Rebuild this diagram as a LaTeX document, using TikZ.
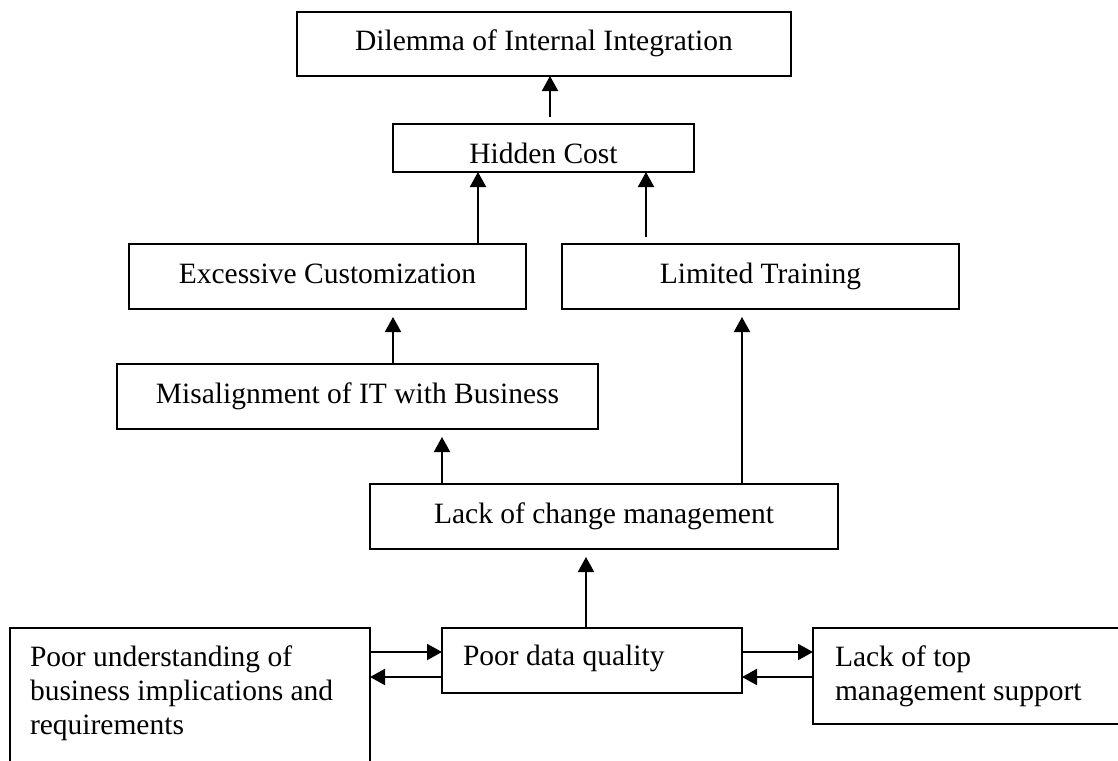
\documentclass[tikz,border=0pt]{standalone}
\usepackage{fontspec}
\setmainfont{Liberation Serif}
\usetikzlibrary{arrows.meta,calc}
\begin{document}
\begin{tikzpicture}[x=1pt,y=-1pt,
  box/.style={draw, line width=2pt, rectangle, inner sep=0pt, outer sep=0pt,
    font=\fontsize{29.5}{34}\selectfont, align=center},
  cbox/.style={box, text height=21pt, text depth=7pt},
  lbox/.style={box, align=flush left, inner xsep=21pt},
  arr/.style={line width=2pt, -{Triangle[width=16pt,length=15pt]}}]
\useasboundingbox (0,0) rectangle (1118,760);
\clip (0,0) rectangle (1118,760);
\fill[white] (0,0) rectangle (1118,760);

% boxes
\node[cbox, minimum width=494pt, minimum height=64pt] (dil) at (544,44) {Dilemma of Internal Integration};
\node[cbox, text height=37pt, minimum width=301pt, minimum height=48pt] (hid) at (543.5,148) {Hidden Cost};
\node[cbox, minimum width=397pt, minimum height=65pt] (exc) at (327.5,276.5) {Excessive Customization};
\node[cbox, minimum width=397pt, minimum height=65pt] (lim) at (760.5,276.5) {Limited Training};
\node[cbox, minimum width=481pt, minimum height=65pt] (mis) at (357.5,396.5) {Misalignment of IT with Business};
\node[cbox, minimum width=468pt, minimum height=65pt] (lcm) at (604,516.5) {Lack of change management};
\node[lbox, text height=16pt, text depth=7pt, text width=258pt, minimum height=65pt] (pdq) at (592,660.5) {Poor data quality};
\node[lbox, text width=300pt, minimum height=96pt, anchor=west, inner xsep=22pt] (ltm) at (813,676)
  {Lack of top\\management support};
\node[box, anchor=north west, inner xsep=20pt, inner ysep=18pt] (pu) at (10,628)
  {\begin{minipage}[t][200pt][t]{320pt}\raggedright
   Poor understanding of\\business implications and\\requirements\end{minipage}};

% x and y positions of the connectors
\coordinate (a1) at (550,0);
\coordinate (a2) at (478,0);
\coordinate (a3) at (646,0);
\coordinate (a4) at (393,0);
\coordinate (a5) at (442,0);
\coordinate (a6) at (742,0);
\coordinate (a7) at (586,0);
\coordinate (r1) at (0,652);
\coordinate (r2) at (0,677);

% connectors
\draw[arr] ($(hid.north -| a1)+(0,-7)$) -- (dil.south -| a1);
\draw[arr] (exc.north -| a2) -- (hid.south -| a2);
\draw[arr] ($(lim.north -| a3)+(0,-7)$) -- (hid.south -| a3);
\draw[arr] (mis.north -| a4) -- ($(exc.south -| a4)+(0,8)$);
\draw[arr] (lcm.north -| a5) -- ($(mis.south -| a5)+(0,8)$);
\draw[arr] (lcm.north -| a6) -- ($(lim.south -| a6)+(0,8)$);
\draw[arr] (pdq.north -| a7) -- ($(lcm.south -| a7)+(0,8)$);
\draw[arr] (pu.east |- r1) -- (pdq.west |- r1);
\draw[arr] (pdq.west |- r2) -- (pu.east |- r2);
\draw[arr] (pdq.east |- r1) -- (ltm.west |- r1);
\draw[arr] (ltm.west |- r2) -- (pdq.east |- r2);
\end{tikzpicture}
\end{document}
